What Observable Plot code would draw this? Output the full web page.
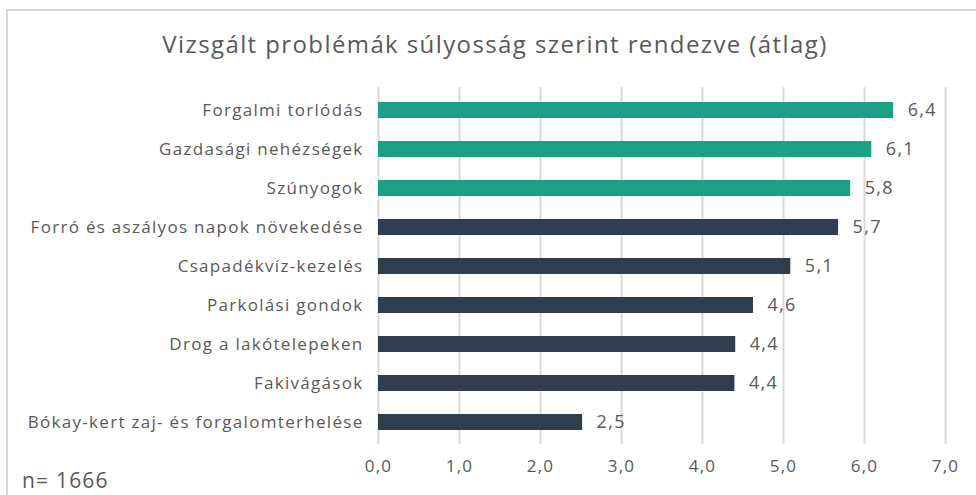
<!DOCTYPE html>
<html>
<head>
<meta charset="utf-8">
<script src="https://cdn.jsdelivr.net/npm/d3@7"></script>
<script src="https://cdn.jsdelivr.net/npm/@observablehq/plot@0.6"></script>
<style>
  html, body { margin: 0; padding: 0; background: #fff; overflow: hidden; }
  #wrap { position: relative; width: 976px; height: 495px; font-family: "Open Sans", sans-serif; }
  #frame { position: absolute; left: 6px; top: 9px; width: 1000px; height: 600px; border: 2px solid #d9d9d9; box-sizing: border-box; }
  #title { position: absolute; left: 0; width: 990px; top: 27px; text-align: center; font-size: 24px; color: #595959; letter-spacing: 1.4px; }
  #caption { position: absolute; left: 22px; top: 466px; font-size: 21px; color: #595959; letter-spacing: 1.2px; }
  #chart { position: absolute; left: 0; top: 0; }
</style>
</head>
<body>
<div id="wrap">
  <div id="frame"></div>
  <div id="chart"></div>
  <div id="title">Vizsgált problémák súlyosság szerint rendezve (átlag)</div>
  <div id="caption">n= 1666</div>
</div>
<script>
const categories = [
  "Forgalmi torlódás",
  "Gazdasági nehézségek",
  "Szúnyogok",
  "Forró és aszályos napok növekedése",
  "Csapadékvíz-kezelés",
  "Parkolási gondok",
  "Drog a lakótelepeken",
  "Fakivágások",
  "Bókay-kert zaj- és forgalomterhelése"
];
const values = [6.36, 6.09, 5.83, 5.68, 5.09, 4.63, 4.41, 4.40, 2.52];
const groups = ["top", "top", "top", "other", "other", "other", "other", "other", "other"];
const xTicks = [0, 1, 2, 3, 4, 5, 6, 7];

const data = categories.map((c, i) => ({ category: c, value: values[i], group: groups[i] }));
const fmt = v => d3.format(".1f")(v).replace(".", ",");

const chart = Plot.plot({
  width: 976,
  height: 495,
  marginLeft: 378,
  marginRight: 31,
  marginTop: 87,
  marginBottom: 51,
  style: { fontFamily: "'Open Sans', sans-serif", color: "#595959", background: "transparent", letterSpacing: "1.3px" },
  x: { domain: [0, 7], ticks: xTicks, tickFormat: fmt, label: null },
  y: { domain: categories, paddingInner: 0.6, paddingOuter: 0.3, label: null },
  color: { domain: ["top", "other"], range: ["#1ba085", "#2e3e50"] },
  marks: [
    Plot.ruleX(xTicks, { stroke: "#d9d9d9", strokeWidth: 2, strokeOpacity: 1 }),
    Plot.barX(data, { x: "value", y: "category", fill: "group" }),
    Plot.text(data, { x: "value", y: "category", text: d => fmt(d.value), textAnchor: "start", dx: 14, fontSize: 18, fill: "#595959" }),
    Plot.axisY({ tickSize: 0, tickPadding: 15, fontSize: 17, label: null }),
    Plot.axisX({ ticks: xTicks, tickFormat: fmt, tickSize: 0, tickPadding: 15, fontSize: 17, label: null })
  ]
});
document.getElementById("chart").appendChild(chart);
</script>
</body>
</html>
